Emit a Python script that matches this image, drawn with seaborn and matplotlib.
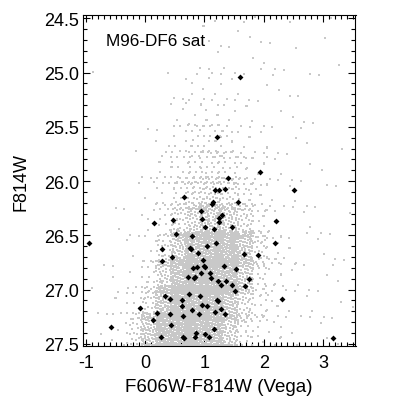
import numpy as np
import pandas as pd
import matplotlib
matplotlib.use("Agg")
import matplotlib.pyplot as plt
import seaborn as sns
from matplotlib.ticker import MultipleLocator, FormatStrFormatter

# satellite candidates (black diamonds)
sat_color = [1.60, 1.21, 1.94, 1.39, 2.51, 1.18, 1.25, 1.35, 0.66, 1.57,
             1.15, 1.13, 0.94, 1.29, 0.47, 0.96, 1.25, 1.25, 0.15, 2.21,
             1.01, 1.47, 1.16, 0.52, 0.79, -0.95, 2.19, 0.29, 0.76, 0.77,
             1.04, 1.20, 1.66, 1.90, 0.45, 0.89, 0.29, 0.98, 0.99, 1.01,
             1.33, 0.81, 0.88, 1.53, 0.94, 1.09, 0.72, 0.84, 0.83, 1.11,
             1.23, 1.36, 1.75, 1.28, 1.47, 1.69, 1.52, 0.74, 0.34, 0.93,
             0.42, 0.62, 1.21, 1.23, 2.31, 0.62, 0.96, 1.04, -0.09, 0.79,
             1.28, 1.18, 0.20, 0.42, 0.64, 0.91, 1.35, 0.13, 0.44, -0.58,
             1.16, 0.86, 1.01, 0.27, 0.64, 0.66, 0.84, 1.08, 3.17]
sat_mag = [25.04, 25.59, 25.92, 25.97, 26.08, 26.08, 26.08, 26.07, 26.15, 26.19,
           26.19, 26.21, 26.28, 26.31, 26.36, 26.35, 26.34, 26.38, 26.39, 26.37,
           26.42, 26.42, 26.44, 26.49, 26.51, 26.57, 26.57, 26.63, 26.62, 26.63,
           26.60, 26.57, 26.67, 26.68, 26.70, 26.66, 26.74, 26.73, 26.78, 26.79,
           26.78, 26.80, 26.79, 26.81, 26.85, 26.85, 26.88, 26.88, 26.89, 26.89,
           26.92, 26.92, 26.90, 26.96, 26.96, 26.97, 27.01, 27.04, 27.06, 27.06,
           27.09, 27.10, 27.10, 27.11, 27.09, 27.15, 27.14, 27.15, 27.17, 27.19,
           27.18, 27.21, 27.22, 27.23, 27.24, 27.23, 27.23, 27.28, 27.33, 27.35,
           27.36, 27.40, 27.41, 27.44, 27.44, 27.45, 27.44, 27.44, 27.45]

# field stars: counts per cell read off the grey cloud
# columns = colour bins of 0.25 from -1.0, rows = F814W bins of 0.25 from 24.5
color_bins = np.arange(-1.0, 3.5, 0.25)
mag_bins = np.arange(24.5, 27.5, 0.25)
field_counts = [
    [0, 0, 0, 0, 0, 1, 1, 2, 3, 2, 2, 2, 1, 1, 1, 1, 2, 0],
    [0, 0, 0, 0, 0, 0, 0, 1, 3, 2, 2, 1, 1, 1, 0, 1, 1, 0],
    [1, 0, 0, 0, 0, 1, 3, 5, 5, 4, 3, 3, 2, 1, 1, 1, 0, 0],
    [0, 0, 0, 0, 1, 2, 5, 8, 9, 6, 4, 3, 2, 1, 1, 1, 0, 0],
    [0, 0, 0, 0, 1, 4, 9, 14, 16, 12, 8, 5, 3, 2, 2, 1, 1, 0],
    [0, 0, 0, 1, 3, 7, 14, 22, 24, 20, 12, 7, 4, 2, 2, 1, 1, 0],
    [0, 0, 1, 2, 4, 10, 24, 40, 45, 40, 24, 10, 5, 3, 2, 1, 1, 0],
    [0, 1, 1, 2, 5, 16, 45, 80, 95, 85, 50, 16, 6, 3, 2, 1, 1, 1],
    [0, 1, 1, 3, 8, 35, 110, 180, 200, 185, 130, 40, 10, 5, 3, 2, 2, 1],
    [1, 1, 2, 5, 16, 80, 190, 230, 230, 200, 110, 25, 8, 5, 3, 2, 2, 1],
    [1, 2, 3, 10, 45, 160, 230, 240, 225, 155, 55, 15, 7, 4, 3, 2, 2, 1],
    [1, 2, 5, 35, 120, 220, 240, 240, 200, 95, 25, 10, 6, 4, 3, 2, 2, 1],
]

# spread each cell's stars evenly over (a bit more than) the cell
g = 1.32471795724
rows = []
for i, m0 in enumerate(mag_bins):
    for j, c0 in enumerate(color_bins):
        n = field_counts[i][j]
        s = (i * 0.37 + j * 0.61) % 1
        for k in range(n):
            u = (s + (k + 1) / g) % 1
            v = (s * 0.7 + (k + 1) / g**2) % 1
            c = c0 + 0.125 + 0.25 * 1.6 * (u - 0.5)
            m = m0 + 0.125 + 0.25 * 1.3 * (v - 0.5)
            if i == len(mag_bins) - 1:
                m = min(m, 27.51)
            rows.append((c, m))
field = pd.DataFrame(rows, columns=["color", "mag"])
sats = pd.DataFrame({"color": sat_color, "mag": sat_mag})

sns.set_style("white")
plt.rcParams["font.family"] = ["Liberation Sans", "DejaVu Sans"]
plt.rcParams["axes.unicode_minus"] = False
plt.rcParams["text.color"] = "black"
plt.rcParams["axes.labelcolor"] = "black"

fig = plt.figure(figsize=(3.95, 4.02), dpi=100)
ax = fig.add_axes([0.21, 0.137, 0.69, 0.823])

sns.scatterplot(data=field, x="color", y="mag", color="#c8c8c8", marker="s",
                s=3.2, linewidth=0, ax=ax)
sns.scatterplot(data=sats, x="color", y="mag", color="black", marker="D",
                s=9, linewidth=0, ax=ax)

ax.set_xlim(-1.05, 3.55)
ax.set_ylim(27.52, 24.47)
ax.xaxis.set_major_locator(MultipleLocator(1))
ax.xaxis.set_minor_locator(MultipleLocator(0.1))
ax.yaxis.set_major_locator(MultipleLocator(0.5))
ax.yaxis.set_minor_locator(MultipleLocator(0.1))
ax.yaxis.set_major_formatter(FormatStrFormatter("%.1f"))
ax.tick_params(which="both", direction="in", bottom=True, left=True,
               top=True, right=True, colors="black", width=0.8, labelsize=13)
ax.tick_params(which="major", length=4.8)
ax.tick_params(which="minor", length=2.9)
ax.tick_params(axis="x", pad=6)
ax.tick_params(axis="y", pad=3)
for sp in ax.spines.values():
    sp.set_color("black")
    sp.set_linewidth(0.8)

ax.set_xlabel("F606W-F814W (Vega)", fontsize=13.5, labelpad=5)
ax.set_ylabel("F814W", fontsize=13, labelpad=10)
ax.text(0.085, 0.924, "M96-DF6 sat", transform=ax.transAxes, fontsize=12.3,
        va="center", ha="left")

fig.savefig("out.png", dpi=100)
